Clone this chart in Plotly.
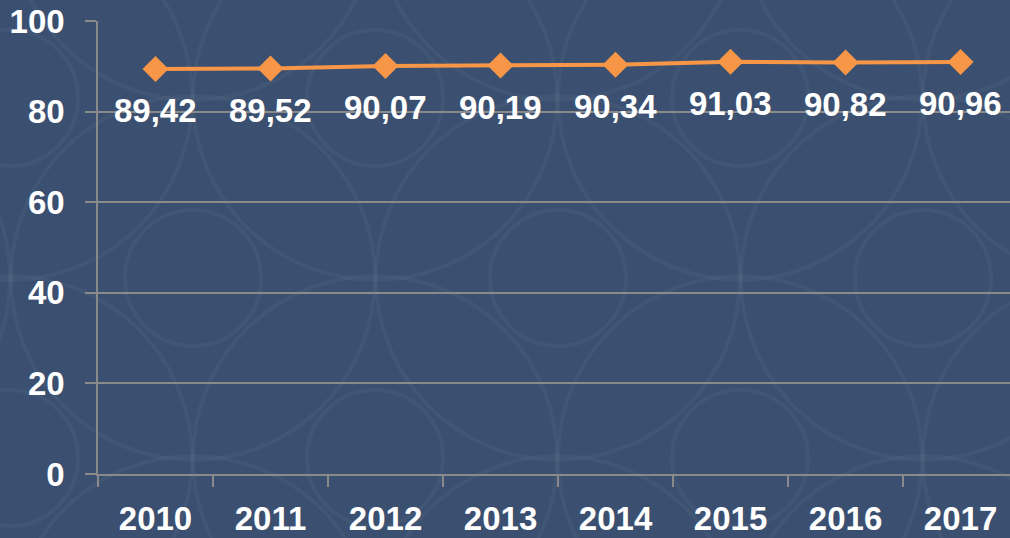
import plotly.graph_objects as go

years = ["2010", "2011", "2012", "2013", "2014", "2015", "2016", "2017"]
values = [89.42, 89.52, 90.07, 90.19, 90.34, 91.03, 90.82, 90.96]
labels = ["89,42", "89,52", "90,07", "90,19", "90,34", "91,03", "90,82", "90,96"]
y_ticks = [0, 20, 40, 60, 80, 100]

FONT = "Liberation Sans, Arial, sans-serif"
GRID = "#8a8a8a"
BG = "#3b5070"
PATTERN = "rgba(255,255,255,0.035)"

W, H = 1010, 538
ML, MR, MT, MB = 98, 0, 21, 64
PW, PH = W - ML - MR, H - MT - MB

fig = go.Figure()
fig.add_trace(go.Scatter(
    x=years, y=values, mode="lines+markers",
    line=dict(color="#f79646", width=4),
    marker=dict(symbol="diamond", size=20, color="#f79646"),
    cliponaxis=False, showlegend=False,
))
for i, (v, lab) in enumerate(zip(values, labels)):
    fig.add_annotation(
        x=i, y=v, xref="x", yref="y", text=lab, showarrow=False, yshift=-42,
        font=dict(family=FONT, size=33, color="white", weight="bold"),
    )

# decorative background pattern (ornamental circles), in page pixels
def px_circle(cx, cy, r, width):
    return dict(
        type="circle", xref="paper", yref="paper", layer="below",
        x0=(cx - r - ML) / PW, x1=(cx + r - ML) / PW,
        y0=(H - MB - (cy + r)) / PH, y1=(H - MB - (cy - r)) / PH,
        line=dict(color=PATTERN, width=width), fillcolor="rgba(0,0,0,0)",
    )

shapes = []
centers = []
for row in range(-1, 3):
    for col in range(-1, 4):
        centers.append((193 + 365 * col, 278 + 360 * row))
        centers.append((375 + 365 * col, 98 + 360 * row))
for cx, cy in centers:
    shapes.append(px_circle(cx, cy, 182, 4))
    shapes.append(px_circle(cx, cy, 68, 4))

fig.update_layout(
    width=W, height=H,
    margin=dict(l=ML, r=MR, t=MT, b=MB),
    paper_bgcolor=BG, plot_bgcolor="rgba(0,0,0,0)",
    font=dict(family=FONT, size=33, color="white", weight="bold"),
    shapes=shapes,
)
fig.update_xaxes(
    type="category", range=[-0.5, 7.43],
    showgrid=False, showline=True, linecolor=GRID, linewidth=1.5,
    ticks="outside", tickson="boundaries", ticklen=11, tickcolor=GRID, tickwidth=1.5,
    ticklabelstandoff=15,
    tickfont=dict(family=FONT, size=33, color="white", weight="bold"),
)
fig.update_yaxes(
    range=[0, 100], tickvals=y_ticks,
    showgrid=True, gridcolor=GRID, gridwidth=1.5,
    showline=True, linecolor=GRID, linewidth=1.5,
    ticks="outside", ticklen=11, tickcolor=GRID, tickwidth=1.5,
    ticklabelstandoff=14, zeroline=False,
    tickfont=dict(family=FONT, size=33, color="white", weight="bold"),
)

fig.write_html(
    "out.html",
    config={"displayModeBar": False},
    post_script="document.body.style.margin='0';document.body.style.padding='0';",
)
